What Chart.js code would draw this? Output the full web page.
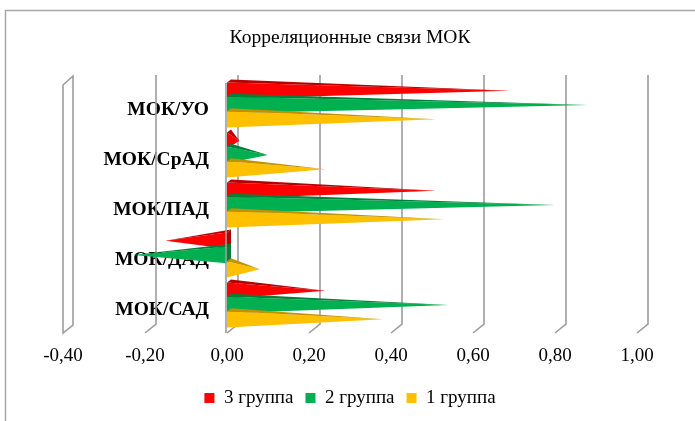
<!DOCTYPE html>
<html>
<head>
<meta charset="utf-8">
<script src="https://cdn.jsdelivr.net/npm/chart.js@4.4.1/dist/chart.umd.min.js"></script>
<style>
  html, body { margin: 0; padding: 0; background: #fff; }
  #wrap { width: 695px; height: 421px; }
</style>
</head>
<body>
<div id="wrap"><canvas id="chart"></canvas></div>
<script>
const categories = ["МОК/УО", "МОК/СрАД", "МОК/ПАД", "МОК/ДАД", "МОК/САД"];
const group3 = [0.69, 0.03, 0.51, -0.15, 0.24];
const group2 = [0.88, 0.10, 0.80, -0.23, 0.54];
const group1 = [0.51, 0.24, 0.53, 0.08, 0.38];
const tickValues = [-0.4, -0.2, 0, 0.2, 0.4, 0.6, 0.8, 1.0];

const FONT = '"Liberation Serif", "Times New Roman", serif';
const GRID = "#9d9d9d";
const DX = 11; // depth offset of back wall

// body colour -> darker facet colour
const shade = { "#FF0000": "#B80000", "#00B050": "#00803A", "#FFC000": "#C49200" };

function fmt(v) {
  if (Math.abs(v) < 1e-9) v = 0;
  return v.toFixed(2).replace(".", ",");
}

const cones = {
  id: "cones",
  beforeDraw(chart) {
    const ctx = chart.ctx;
    ctx.save();
    ctx.fillStyle = "#fff";
    ctx.fillRect(0, 0, chart.width, chart.height);
    ctx.strokeStyle = "#a6a6a6";
    ctx.lineWidth = 1.5;
    ctx.strokeRect(5.5, 10.5, chart.width + 10, chart.height + 10);
    ctx.restore();
  },
  beforeDatasetsDraw(chart) {
    const { ctx, chartArea: a, scales: { x, y } } = chart;
    ctx.save();

    // category labels
    ctx.font = "bold 19.5px " + FONT;
    ctx.fillStyle = "#000";
    ctx.textAlign = "right";
    ctx.textBaseline = "middle";
    const lx = x.getPixelForValue(0) - 18;
    chart.data.labels.forEach((lab, i) => ctx.fillText(lab, lx, y.getPixelForValue(i) + 5));

    // side wall and back grid lines
    const top = a.top - 5, backBottom = a.bottom - 6, frontBottom = a.bottom + 3;
    ctx.strokeStyle = GRID;
    ctx.lineWidth = 1.6;
    x.ticks.forEach((t, i) => {
      const f = x.getPixelForValue(t.value);
      ctx.beginPath();
      if (i === 0) {
        ctx.moveTo(f, frontBottom);
        ctx.lineTo(f, a.top + 5);
        ctx.lineTo(f + DX - 1, top + 1);
        ctx.lineTo(f + DX - 1, backBottom + 1);
        ctx.closePath();
      } else {
        ctx.moveTo(f + DX, top);
        ctx.lineTo(f + DX, backBottom);
        ctx.lineTo(f, frontBottom);
      }
      ctx.stroke();
    });

    // cones, top dataset first so lower ones overlap it
    chart.data.datasets.forEach((ds, di) => {
      const meta = chart.getDatasetMeta(di);
      meta.data.forEach(el => {
        const { x: tip, y: cy, base, height } = el.getProps(["x", "y", "base", "height"], true);
        const half = height / 2 + 1;
        const dark = shade[ds.backgroundColor];

        ctx.fillStyle = ds.backgroundColor;
        ctx.beginPath();
        ctx.moveTo(base, cy - half);
        ctx.lineTo(tip, cy);
        ctx.lineTo(base, cy + half);
        ctx.closePath();
        ctx.fill();

        // top facet
        ctx.fillStyle = dark;
        ctx.beginPath();
        ctx.moveTo(base, cy - half);
        ctx.lineTo(base + 4, cy - half - 3);
        ctx.lineTo(tip, cy);
        ctx.closePath();
        ctx.fill();

        // visible base face for negative values
        if (tip < base) {
          ctx.beginPath();
          ctx.moveTo(base, cy - half);
          ctx.lineTo(base + 4, cy - half - 3);
          ctx.lineTo(base + 4, cy + half - 3);
          ctx.lineTo(base, cy + half);
          ctx.closePath();
          ctx.fill();
        }
      });
    });
    ctx.restore();
  },
  beforeDatasetDraw() {
    return false; // drawn above
  },
  afterDatasetsDraw(chart) {
    const { ctx, chartArea: a, scales: { x } } = chart;
    const f = x.getPixelForValue(0) - 1;
    ctx.save();
    ctx.strokeStyle = GRID;
    ctx.lineWidth = 1.6;
    ctx.beginPath();
    ctx.moveTo(f, a.top + 3);
    ctx.lineTo(f, a.bottom + 3);
    ctx.stroke();
    ctx.restore();
  }
};

new Chart(document.getElementById("chart"), {
  type: "bar",
  data: {
    labels: categories,
    datasets: [
      { label: "3 группа", data: group3, backgroundColor: "#FF0000" },
      { label: "2 группа", data: group2, backgroundColor: "#00B050" },
      { label: "1 группа", data: group1, backgroundColor: "#FFC000" }
    ]
  },
  options: {
    indexAxis: "y",
    responsive: true,
    maintainAspectRatio: false,
    animation: false,
    categoryPercentage: 0.86,
    barPercentage: 1.0,
    layout: { padding: { left: 63, right: 58, top: 0, bottom: 3.5 } },
    scales: {
      x: {
        min: -0.4,
        max: 1.0,
        afterBuildTicks: s => { s.ticks = tickValues.map(v => ({ value: v })); },
        afterFit: s => { s.height = 46.5; },
        grid: { display: false, drawTicks: false },
        border: { display: false },
        ticks: {
          padding: 15,
          color: "#000",
          font: { family: FONT, size: 19 },
          callback: v => fmt(v)
        }
      },
      y: { display: false }
    },
    plugins: {
      title: {
        display: true,
        text: "Корреляционные связи МОК",
        color: "#000",
        font: { family: FONT, size: 19.5, weight: "normal" },
        padding: { top: 26, bottom: 30.6 }
      },
      legend: {
        position: "bottom",
        labels: {
          color: "#000",
          boxWidth: 10,
          boxHeight: 10,
          padding: 12,
          font: { family: FONT, size: 19 }
        }
      },
      tooltip: { enabled: false }
    }
  },
  plugins: [cones]
});
</script>
</body>
</html>
